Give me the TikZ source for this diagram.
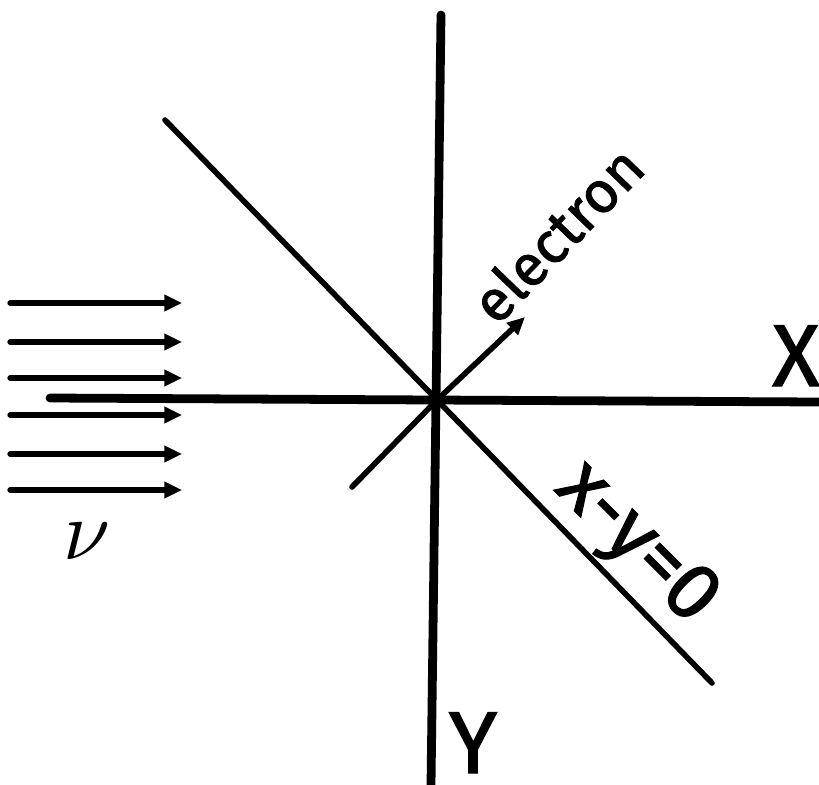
\documentclass[tikz,border=0pt]{standalone}
\usepackage{fontspec}
\usepackage{tikz}
\usetikzlibrary{arrows.meta}
\newfontfamily\handfont[FakeBold=1.5]{Fira Sans}

\begin{document}
\begin{tikzpicture}[x=0.02cm,y=-0.02cm,
  axis/.style={line width=5pt,line cap=round},
  diag/.style={line width=3.2pt,line cap=round},
  beam/.style={line width=3pt,line cap=round,-{Triangle[length=10pt,width=9pt]}},
  lbl/.style={font=\handfont\fontsize{#1}{#1}\selectfont,inner sep=0pt}]
  \useasboundingbox (0,0) rectangle (819,785);
  \coordinate (O) at (437,400);
  \coordinate (xl) at (50,398);
  \coordinate (xr) at (819,402);
  \coordinate (yt) at (441,15);
  \coordinate (yb) at (431,785);
  \coordinate (dtl) at (165,120);
  \coordinate (dbr) at (712,683);
  \coordinate (ebl) at (352,487);
  \coordinate (etip) at (525,317);
  \draw[axis] (xl) -- (xr);
  \draw[axis] (yt) -- (yb);
  \draw[diag] (dtl) -- (dbr);
  \draw[diag] (ebl) -- (O);
  \draw[diag,-{Triangle[length=10pt,width=9pt]}] (O) -- (etip);
  \foreach \y [count=\i] in {303,342,378,415,454,490}{
    \coordinate (src\i) at (10,\y);
    \coordinate (dst\i) at (182,\y);
    \draw[beam] (src\i) -- (dst\i);
  }
  \node[lbl=50,anchor=base] (xlab) at (796,386) {X};
  \node[lbl=50,anchor=base] (ylab) at (473,773) {Y};
  \node[lbl=33,rotate=46] (elab) at (557,234) {electron};
  \node[lbl=46,rotate=-45] (diaglab) at (635,545) {x-y=0};
  \node[inner sep=0pt] (nulab) at (87,541) {\scalebox{4.8}{$\nu$}};
\end{tikzpicture}
\end{document}
